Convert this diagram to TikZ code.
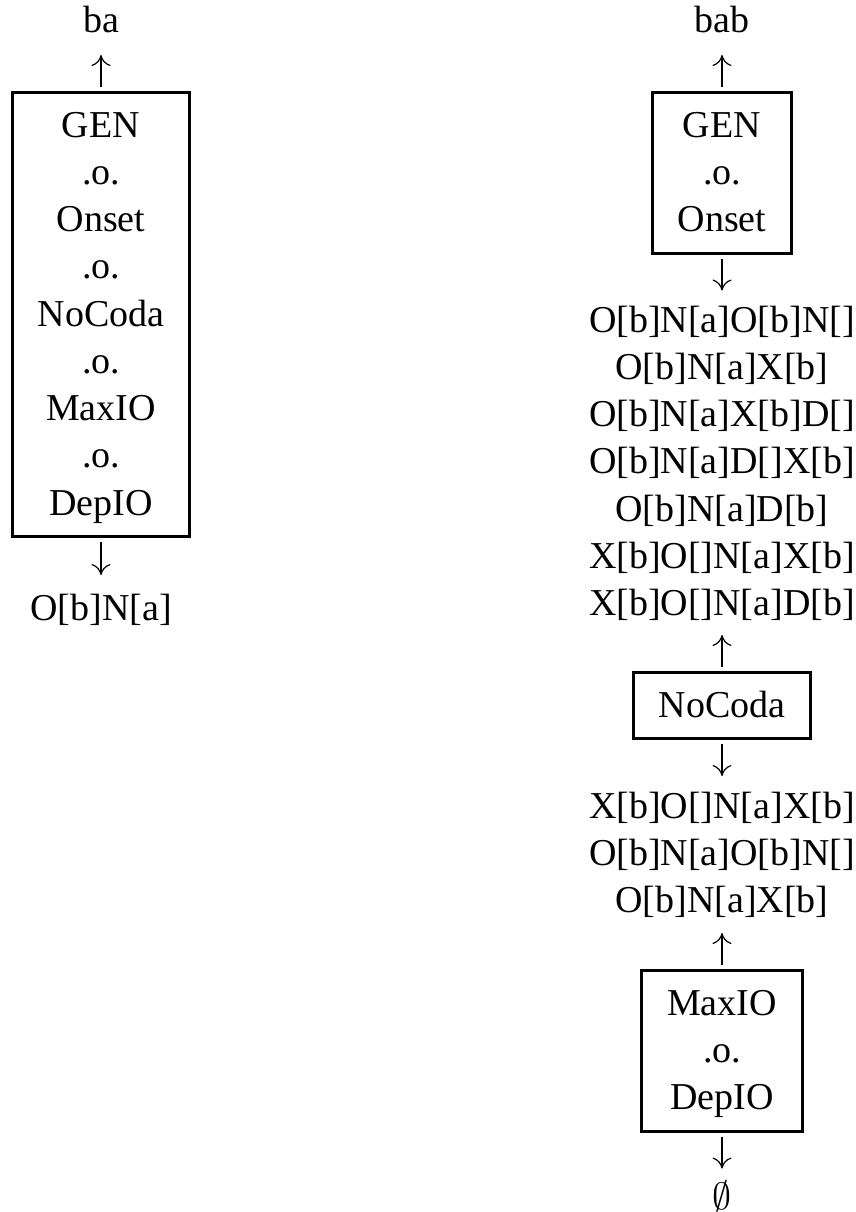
\RequirePackage{fix-cm}
\documentclass[tikz,border=0pt]{standalone}
\usepackage{fontspec}
\setmainfont{Liberation Serif}
\usetikzlibrary{fit,arrows.meta}

\tikzset{
  txt/.style={inner sep=0pt, outer sep=0pt, anchor=base, text height=31pt, text depth=8pt},
  frame/.style={draw, line width=3pt, inner xsep=25.5pt, inner ysep=13.5pt},
  conn/.style={line width=1.2pt, -{Computer Modern Rightarrow[length=11pt,width=19pt]}, shorten <=4pt}
}

\begin{document}
\begin{tikzpicture}[x=1pt,y=1pt,font=\fontsize{38}{47.25}\selectfont]
\useasboundingbox (0,0) rectangle (856,-1212);

% left: the whole cascade composed into one transducer
\node[txt] (ba) at (101,-33) {ba};
\node[txt] (a1) at (101,-137)    {GEN};
\node[txt] (a2) at (101,-184.25) {.o.};
\node[txt] (a3) at (101,-231.5)  {Onset};
\node[txt] (a4) at (101,-278.75) {.o.};
\node[txt] (a5) at (101,-326)    {NoCoda};
\node[txt] (a6) at (101,-373.25) {.o.};
\node[txt] (a7) at (101,-420.5)  {MaxIO};
\node[txt] (a8) at (101,-467.75) {.o.};
\node[txt] (a9) at (101,-515)    {DepIO};
\node[frame, fit=(a1)(a2)(a3)(a4)(a5)(a6)(a7)(a8)(a9)] (boxA) {};
\node[txt] (outA) at (101,-620) {O[b]N[a]};
\draw[conn, shorten >=14pt] (boxA.north) -- (ba.south);
\draw[conn, shorten >=14pt] (boxA.south) -- (outA.north);

% right: the same cascade applied step by step
\node[txt] (bab) at (722,-33) {bab};
\node[txt] (b1) at (722,-137)    {GEN};
\node[txt] (b2) at (722,-184.25) {.o.};
\node[txt] (b3) at (722,-231.5)  {Onset};
\node[frame, fit=(b1)(b2)(b3)] (boxB) {};
\draw[conn, shorten >=14pt] (boxB.north) -- (bab.south);

\node[txt] (c1) at (722,-332)    {O[b]N[a]O[b]N[]};
\node[txt] (c2) at (722,-379.25) {O[b]N[a]X[b]};
\node[txt] (c3) at (722,-426.5)  {O[b]N[a]X[b]D[]};
\node[txt] (c4) at (722,-473.75) {O[b]N[a]D[]X[b]};
\node[txt] (c5) at (722,-521)    {O[b]N[a]D[b]};
\node[txt] (c6) at (722,-568.25) {X[b]O[]N[a]X[b]};
\node[txt] (c7) at (722,-615.5)  {X[b]O[]N[a]D[b]};
\draw[conn, shorten >=10.5pt] (boxB.south) -- (c1.north);

\node[txt] (d1) at (722,-717) {NoCoda};
\node[frame, fit=(d1)] (boxC) {};
\draw[conn, shorten >=11.5pt] (boxC.north) -- (c7.south);

\node[txt] (e1) at (722,-818)    {X[b]O[]N[a]X[b]};
\node[txt] (e2) at (722,-865.25) {O[b]N[a]O[b]N[]};
\node[txt] (e3) at (722,-912.5)  {O[b]N[a]X[b]};
\draw[conn, shorten >=11pt] (boxC.south) -- (e1.north);

\node[txt] (f1) at (722,-1015)   {MaxIO};
\node[txt] (f2) at (722,-1062.25){.o.};
\node[txt] (f3) at (722,-1109.5) {DepIO};
\node[frame, fit=(f1)(f2)(f3)] (boxD) {};
\draw[conn, shorten >=12.5pt] (boxD.north) -- (e3.south);

\node[txt] (empty) at (722,-1209) {\(\emptyset\)};
\draw[conn, shorten >=9.5pt] (boxD.south) -- (empty.north);
\end{tikzpicture}
\end{document}
